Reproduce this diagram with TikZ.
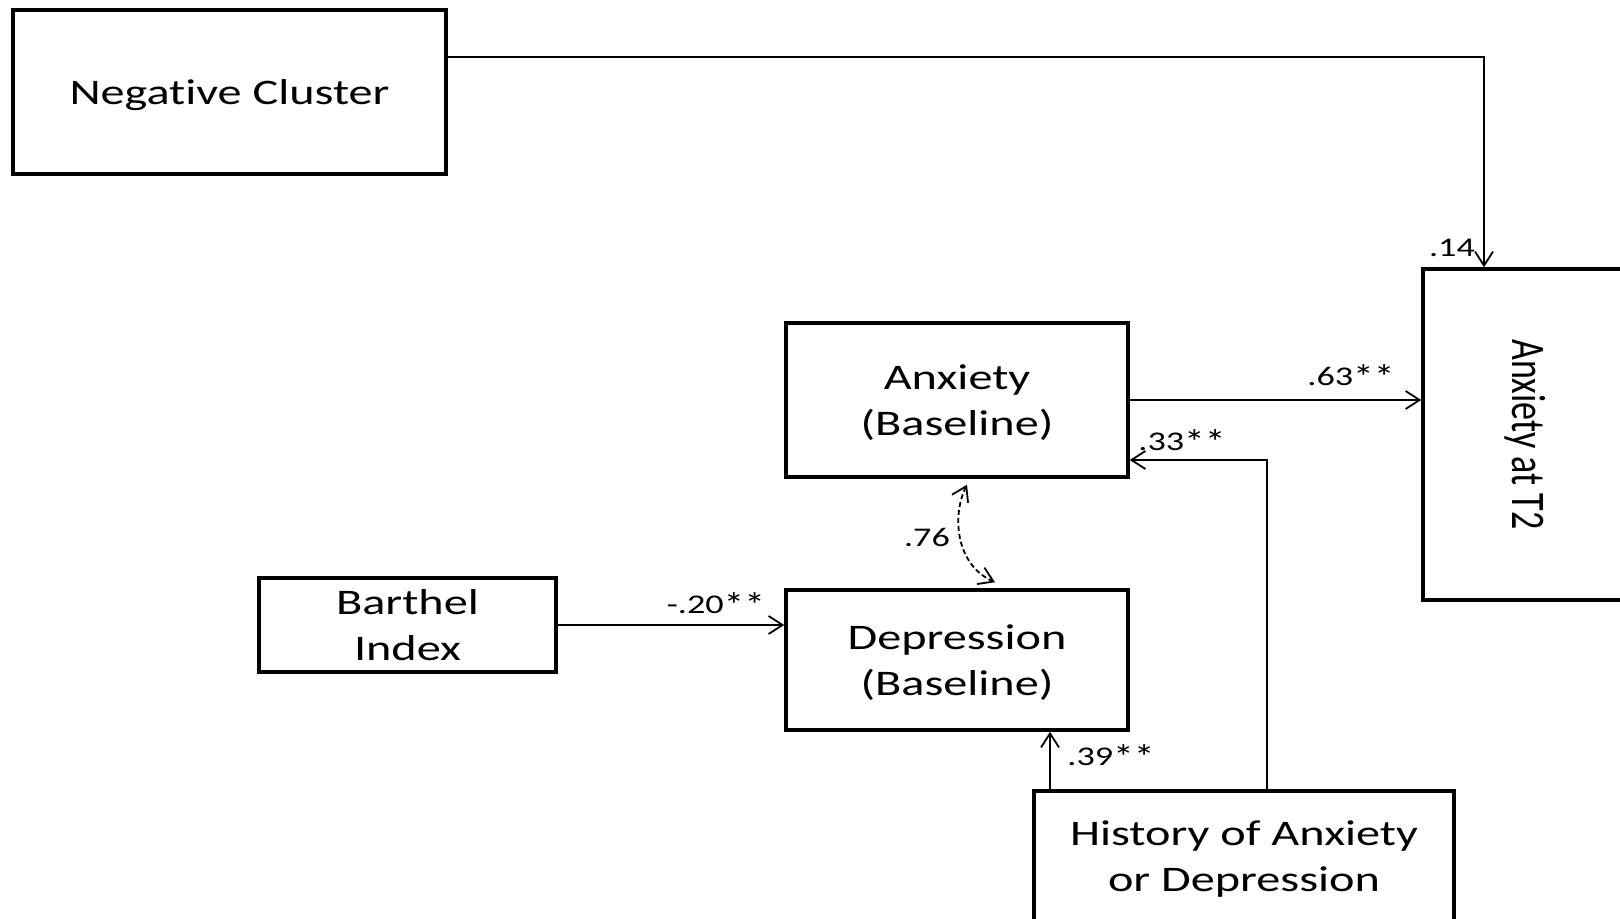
\documentclass[tikz,border=0pt]{standalone}
\usepackage{fontspec}
\usepackage{graphicx}
\setmainfont{Carlito}[FakeStretch=1.34,Ligatures=NoCommon]
\newfontfamily\uprightfont{Carlito}[Ligatures=NoCommon]
\usetikzlibrary{arrows.meta,calc}
% significance mark, a little larger than the font's own asterisk
\newcommand\sigmark{\raisebox{-0.14em}{\scalebox{1.15}[1.3]{*}}}
\begin{document}
\begin{tikzpicture}[x=0.5pt,y=-0.5pt,
  box/.style 2 args={draw, line width=1.75pt, rectangle, inner sep=0pt,
    minimum width=#1*0.5pt, minimum height=#2*0.5pt, align=center,
    text depth=0pt, font=\fontsize{18pt}{22.7pt}\selectfont},
  coef/.style={inner sep=0pt, font=\fontsize{13.5pt}{16pt}\selectfont},
  arr/.style={line width=0.9pt, -{Straight Barb[length=7pt,width=9pt]}},
  corr/.style={line width=0.9pt, dash pattern=on 2.5pt off 1.5pt,
    {Straight Barb[length=7pt,width=9pt]}-{Straight Barb[length=7pt,width=9pt]}}]
  \clip (0,0) rectangle (1620,919);
  \fill[white] (0,0) rectangle (1620,919);

  % boxes
  \node[box={433}{164}] (neg) at (229.5,92) {Negative Cluster};
  \node[box={342}{154}] (anx) at (957,400) {Anxiety\\(Baseline)};
  \node[box={342}{140}] (dep) at (957,660) {Depression\\(Baseline)};
  \node[box={297}{94}] (bar) at (407.5,625) {Barthel\\Index};
  \node[box={420}{130}] (hist) at (1244,856) {History of Anxiety\\or Depression};
  \node[box={204}{331}, text depth=] (t2) at (1525,434.5)
    {\rotatebox{-90}{\uprightfont\scalebox{1}[1.34]{Anxiety at T2}}};

  % bend points of the elbow connectors
  \coordinate (k1) at (1484,57);
  \coordinate (k2) at (1267,460);
  \coordinate (k3) at (1050,0);

  % paths
  \draw[arr] (neg.east |- k1) -| (t2.north -| k1);
  \draw[arr] (anx.east) -- (t2.west |- anx.east);
  \draw[arr] (hist.north -| k2) |- (anx.east |- k2);
  \draw[arr] (hist.north -| k3) -- (dep.south -| k3);
  \draw[arr] (bar.east) -- (dep.west |- bar.east);

  % correlation between the baseline measures
  \coordinate (d1) at ($(anx.south)+(10,6)$);
  \coordinate (d2) at ($(dep.north)+(38,-6)$);
  \draw[corr] (d1) .. controls ($(d1)+(-15,30)$) and ($(d2)+(-40,-18)$) .. (d2);

  % coefficients
  \node[coef] (c14) at (1452,248) {.14};
  \node[coef] (c63) at (1351,377) {.63\sigmark\sigmark};
  \node[coef] (c33) at (1182,442) {.33\sigmark\sigmark};
  \node[coef] (c39) at (1111,757) {.39\sigmark\sigmark};
  \node[coef] (c20) at (716,605) {-.20\sigmark\sigmark};
  \node[coef] (c76) at (927,537) {.76};
\end{tikzpicture}
\end{document}
